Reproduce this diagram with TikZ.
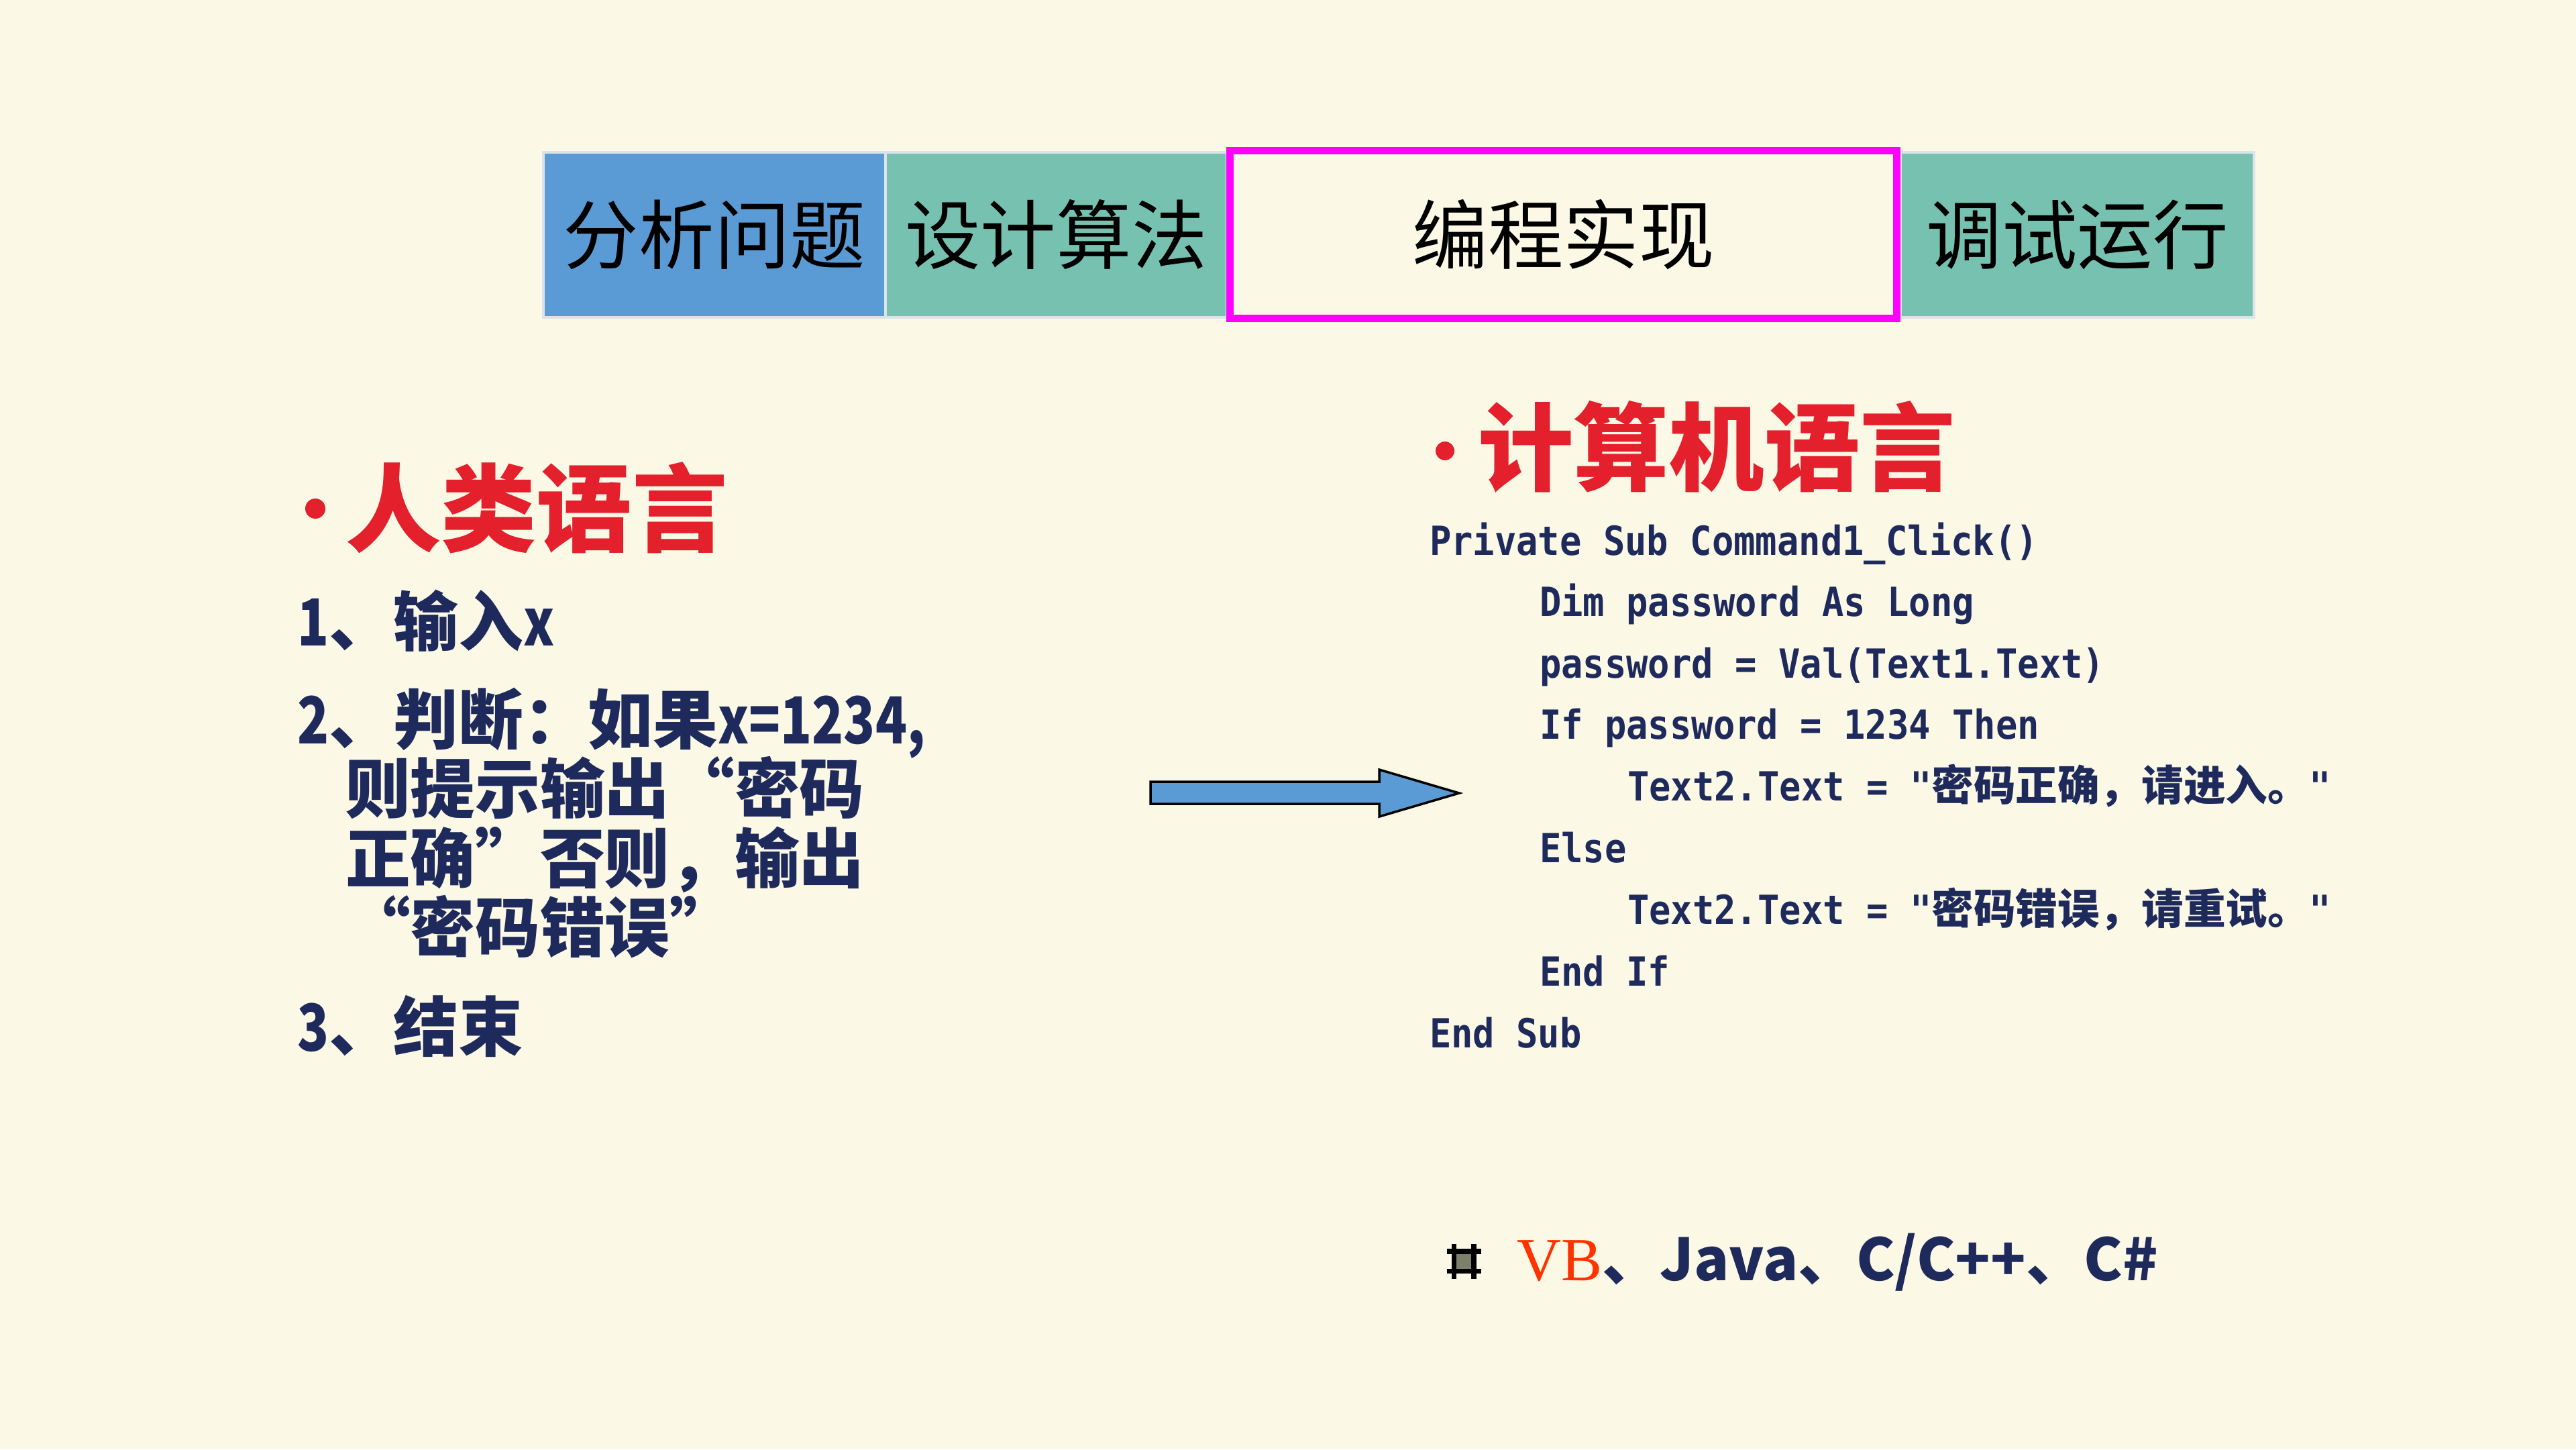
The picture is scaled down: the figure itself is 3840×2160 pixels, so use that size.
\documentclass[tikz,border=0pt]{standalone}
\usepackage{fontspec}
\setmainfont{Liberation Serif}
\newfontfamily\cjk{Noto Sans CJK SC}
\newfontfamily\cjkn[FakeStretch=0.8]{Noto Sans CJK SC}
\newfontfamily\codefont[FakeStretch=0.9]{DejaVu Sans Mono}
\definecolor{bg}{HTML}{FBF8E5}
\definecolor{boxblue}{HTML}{5B9BD5}
\definecolor{boxgreen}{HTML}{77C1B1}
\definecolor{boxedge}{HTML}{DCE3EA}
\definecolor{titlered}{HTML}{E3202C}
\definecolor{navy}{HTML}{1F2A5C}
\definecolor{vbred}{HTML}{FF3300}
\definecolor{pinkframe}{HTML}{FF00FF}
\definecolor{icongrey}{HTML}{7C8068}
\newcommand\zhcode[1]{{\cjk\bfseries\fontsize{17.8}{20}\selectfont #1}}
\newcommand\nlat[1]{{\cjkn\bfseries #1}}
\begin{document}
\begin{tikzpicture}[x=0.01cm,y=-0.01cm,
  every node/.style={inner sep=0pt, outer sep=0pt},
  stagebox/.style={draw=boxedge, line width=1pt, minimum height=2.46cm,
    font=\cjk\fontsize{32}{36}\selectfont, text=black},
  titletext/.style={anchor=base west, text=titlered, font=\cjk\bfseries\fontsize{40.5}{44}\selectfont},
  itemtext/.style={anchor=base west, text=navy, font=\cjk\bfseries\fontsize{27.5}{30}\selectfont},
  codetext/.style={anchor=base west, text=navy, font=\codefont\bfseries\fontsize{17}{20}\selectfont},
  bulletdot/.style={fill=titlered, draw=none}
]
\fill[bg] (0,0) rectangle (3840,2160);
\useasboundingbox (0,0) rectangle (3840,2160);

% stage boxes
\node[stagebox, fill=boxblue, minimum width=5.10cm] (b1) at (1065,350) {分析问题};
\node[stagebox, fill=boxgreen, minimum width=5.09cm] (b2) at (1574.5,350) {设计算法};
\node[stagebox, fill=boxgreen, minimum width=5.27cm] (b4) at (3096.5,350) {调试运行};
\node[stagebox, fill=bg, draw=pinkframe, line width=3.1pt, minimum width=9.94cm, minimum height=2.50cm] (b3) at (2330.5,349.5) {编程实现};

% left: human language
\fill[bulletdot] (470,758) circle (15);
\node[titletext] (t1) at (515,811) {人类语言};
\node[itemtext] (l1) at (443,962) {\nlat{1}、输入\nlat{x}};
\node[itemtext] (l2) at (443,1108) {\nlat{2}、判断：如果\nlat{x=1234,}};
\node[itemtext] (l3) at (515,1211) {则提示输出“密码};
\node[itemtext] (l4) at (515,1315) {正确”否则，输出};
\node[itemtext] (l5) at (515,1418) {“密码错误”};
\node[itemtext] (l6) at (443,1566) {\nlat{3}、结束};

% arrow
\coordinate (aR) at (2175,1182);
\draw[line width=1pt, fill=boxblue, line join=miter]
  (1715,1165) -- (2056,1165) -- (2056,1147) -- (aR) -- (2056,1217)
  -- (2056,1198) -- (1715,1198) -- cycle;

% right: computer language
\fill[bulletdot] (2154,672) circle (14);
\node[titletext] (t2) at (2203,720) {计算机语言};
\node[codetext] (c1) at (2131,827) {Private Sub Command1\_Click()};
\node[codetext] (c2) at (2295,918.5) {Dim password As Long};
\node[codetext] (c3) at (2295,1010) {password = Val(Text1.Text)};
\node[codetext] (c4) at (2295,1101.5) {If password = 1234 Then};
\node[codetext] (c5) at (2426,1193) {Text2.Text = "\zhcode{密码正确，请进入。}"};
\node[codetext] (c6) at (2295,1285) {Else};
\node[codetext] (c7) at (2426,1377) {Text2.Text = "\zhcode{密码错误，请重试。}"};
\node[codetext] (c8) at (2295,1469) {End If};
\node[codetext] (c9) at (2131,1561) {End Sub};

% bottom line
\fill[icongrey] (2171,1869) rectangle (2193,1891);
\fill[black] (2164,1854) rectangle (2171,1906);
\fill[black] (2193,1854) rectangle (2201,1906);
\fill[black] (2157,1861) rectangle (2208,1869);
\fill[black] (2157,1891) rectangle (2208,1898);
\node[anchor=base west, text=vbred, font=\fontsize{26}{30}\selectfont] (vb) at (2261,1908) {VB};
\node[anchor=base west, text=navy, font=\cjk\bfseries\fontsize{24.6}{30}\selectfont] (langs) at (vb.base east) {、Java、C/C++、C\#};
\end{tikzpicture}
\end{document}
